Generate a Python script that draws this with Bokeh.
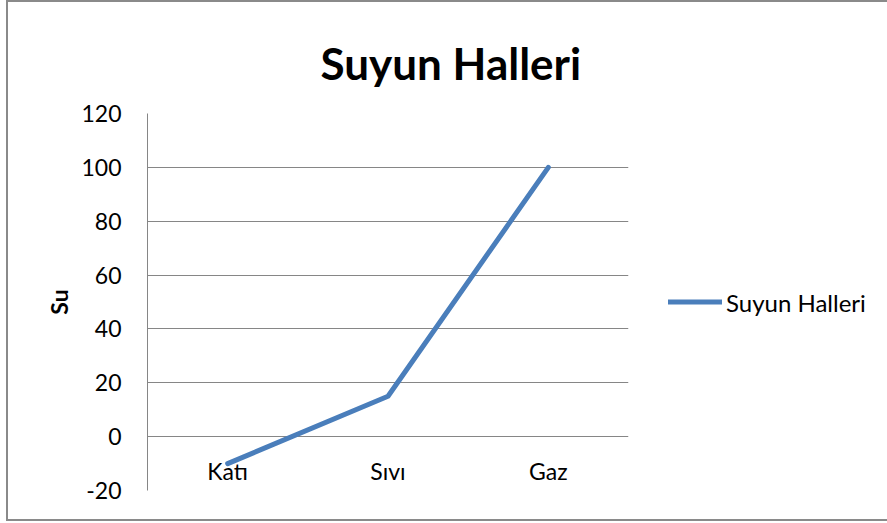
from bokeh.plotting import figure
from bokeh.embed import file_html
from bokeh.resources import INLINE
from bokeh.models import FixedTicker, Legend, LegendItem

categories = ["Katı", "Sıvı", "Gaz"]
values = [-10, 15, 100]
y_ticks = [-20, 0, 20, 40, 60, 80, 100, 120]
y_tick_labels = ["-20", "0", "20", "40", "60", "80", "100", "120"]
series_name = "Suyun Halleri"
title_text = "Suyun Halleri"
y_label = "Su"

FONT = "Lato"
GRID = "#868686"
BORDER = "2px solid #8a8a8a"

p = figure(
    x_range=categories, y_range=(-20, 120),
    width=879, height=517,
    frame_width=481, frame_height=377,
    min_border_left=139, min_border_right=259,
    min_border_top=111, min_border_bottom=29,
    output_backend="svg", toolbar_location=None,
    styles={"border-left": BORDER, "border-top": BORDER,
            "border-bottom": BORDER, "margin-left": "6px"},
)
p.outline_line_color = None

r = p.line(categories, values, line_color="#4A7EBB", line_width=5,
           line_cap="round", line_join="round")

p.title.text = title_text
p.title.align = "left"
p.title.text_font = FONT
p.title.text_font_size = "44px"
p.title.text_font_style = "bold"
p.title.text_color = "black"
p.title.offset = 173
p.title.standoff = 49

# y axis
p.yaxis.ticker = FixedTicker(ticks=y_ticks)
p.yaxis.major_label_overrides = dict(zip(y_ticks, y_tick_labels))
p.yaxis.major_label_text_font = FONT
p.yaxis.major_label_text_font_size = "23px"
p.yaxis.major_label_text_color = "black"
p.yaxis.major_tick_line_color = None
p.yaxis.major_tick_out = 0
p.yaxis.major_tick_in = 0
p.yaxis.minor_tick_line_color = None
p.yaxis.axis_line_color = GRID
p.yaxis.major_label_standoff = 26
p.yaxis.axis_label = y_label
p.yaxis.axis_label_text_font = FONT
p.yaxis.axis_label_text_font_size = "23px"
p.yaxis.axis_label_text_font_style = "bold"
p.yaxis.axis_label_text_color = "black"
p.yaxis.axis_label_standoff = 5

p.ygrid.ticker = FixedTicker(ticks=y_ticks)
p.ygrid.grid_line_color = GRID
p.ygrid.grid_line_width = 1
p.xgrid.grid_line_color = None

# x axis crossing at 0
p.xaxis.fixed_location = 0
p.xaxis.axis_line_color = None
p.xaxis.major_tick_line_color = None
p.xaxis.major_tick_out = 0
p.xaxis.major_tick_in = 0
p.xaxis.minor_tick_line_color = None
p.xaxis.major_label_text_font = FONT
p.xaxis.major_label_text_font_size = "23px"
p.xaxis.major_label_text_color = "black"
p.xaxis.major_label_standoff = 20

lg = Legend(items=[LegendItem(label=series_name, renderers=[r])],
            location="center_left")
lg.border_line_color = None
lg.background_fill_alpha = 0
lg.padding = 0
lg.margin = 40
lg.glyph_width = 54
lg.label_standoff = 4
lg.label_text_font = FONT
lg.label_text_font_size = "24px"
lg.label_text_color = "black"
p.add_layout(lg, "right")

open("out.html", "w").write(file_html(p, INLINE))
